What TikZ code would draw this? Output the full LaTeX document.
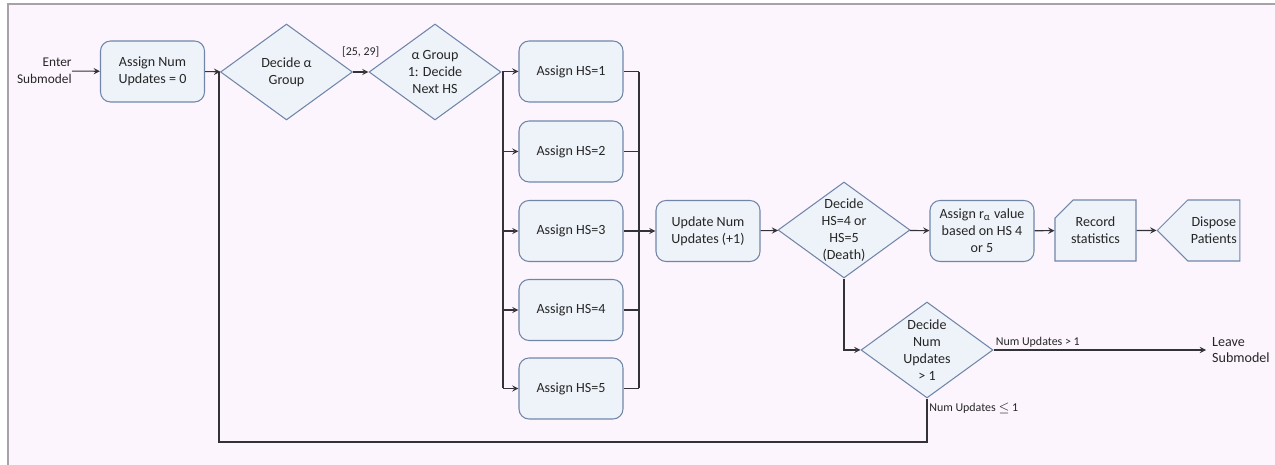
\documentclass[tikz,border=0pt]{standalone}
\usepackage{fontspec}
\setmainfont{Carlito}
\usetikzlibrary{shapes.geometric,shapes.misc,shapes.symbols}

\definecolor{pagebg}{RGB}{253,245,253}
\definecolor{framegray}{RGB}{168,162,168}
\definecolor{boxfill}{RGB}{238,243,250}
\definecolor{boxline}{RGB}{112,134,168}
\definecolor{linegray}{RGB}{50,50,55}

\begin{document}
\begin{tikzpicture}[x=0.02cm,y=-0.02cm,> = stealth,
		every node/.style={font=\fontsize{8}{9.6}\selectfont, text=black!85},
		process/.style={draw=boxline, fill=boxfill, line width=0.6pt, rounded corners=0.2cm,
			minimum width=2.08cm, minimum height=1.22cm, align=center},
		decision/.style={diamond, draw=boxline, fill=boxfill, line width=0.6pt,
			minimum width=2.64cm, minimum height=1.92cm, inner sep=-0.3cm, align=center},
		record/.style={chamfered rectangle, chamfered rectangle corners=north west,
			chamfered rectangle xsep=0.18cm, chamfered rectangle ysep=0.18cm,
			draw=boxline, fill=boxfill, line width=0.6pt,
			minimum width=1.62cm, minimum height=1.22cm, align=center},
		dispose/.style={signal, signal to=west, signal from=nowhere, signal pointer angle=90,
			draw=boxline, fill=boxfill, line width=0.6pt, inner xsep=1.8pt,
			minimum height=1.22cm, align=center},
		note/.style={font=\fontsize{6.8}{8}\selectfont, inner sep=1pt},
		flow/.style={draw=linegray, line width=0.6pt}]

			% Page
			\useasboundingbox (0,0) rectangle (1275,465);
			\fill[pagebg] (8,4) rectangle (1275,465);
			\draw[framegray, line width=0.6pt] (8,465) -- (8,4) -- (1275,4);

			% Top row
			\node[align=right, anchor=east, inner sep=0pt, font=\fontsize{7.6}{9.6}\selectfont] (enter) at (72,71) {Enter\\Submodel};
			\node[process] (init) at (152.5,71.5) {Assign Num\\Updates = 0};
			\node[decision] (dag) at (286.5,72) {Decide α\\Group};
			\node[decision] (dg1) at (435,72) {α Group\\1: Decide\\Next HS};

			% Health state boxes
			\node[process] (hs1) at (571,71.5) {Assign HS=1};
			\node[process] (hs2) at (571,151.5) {Assign HS=2};
			\node[process] (hs3) at (571,231) {Assign HS=3};
			\node[process] (hs4) at (571,310) {Assign HS=4};
			\node[process] (hs5) at (571,388.5) {Assign HS=5};

			% Middle row
			\node[process] (upd) at (708,231) {Update Num\\Updates (+1)};
			\node[decision] (dhs) at (844,230) {Decide\\HS=4 or\\HS=5\\(Death)};
			\node[process] (ra) at (982,231) {Assign r\textsubscript{α} value\\based on HS 4\\or 5};
			\node[record] (rec) at (1095.5,230.5) {Record\\statistics};
			\node[dispose, anchor=west] (disp) at (1156.5,230.5) {Dispose\\Patients};

			% Bottom decision
			\node[decision] (dnu) at (927,350) {Decide\\Num\\Updates\\> 1};
			\node[align=left, anchor=west] (leave) at (1206,350) {Leave\\Submodel};

			% Bus lines
			\coordinate (busL) at (503,72);
			\coordinate (busR) at (639,72);
			\coordinate (loopbot) at (219,442);

			% Connectors
			\draw[flow,->] (enter) -- (init);
			\draw[flow,->] (init) -- (dag);
			\draw[flow,->] (dag) -- node[note, midway, above=7pt] {[25, 29]} (dg1);
			\draw[flow] (dg1) -- (busL) -- (busL |- hs5);
			\draw[flow] (busR) -- (busR |- hs5);
			\foreach \n in {hs1,hs2,hs3,hs4,hs5} {
				\draw[flow,->] (busL |- \n) -- (\n);
				\draw[flow] (\n) -- (busR |- \n);
			}
			\draw[flow,->] (busR |- upd) -- (upd);
			\draw[flow,->] (upd) -- (dhs);
			\draw[flow,->] (dhs) -- (ra);
			\draw[flow,->] (ra) -- (rec);
			\draw[flow,->] (rec) -- (disp);
			\draw[flow,->] (dhs.south) |- (dnu.west);
			\draw[flow,->] (dnu.east) -- node[note, pos=0, above right] {Num Updates > 1} (leave);
			\draw[flow] (dnu.south) -- node[note, pos=0.05, anchor=north west] {Num Updates $\leq$ 1} (dnu.south |- loopbot)
				-- (loopbot) -- (loopbot |- dag.west);
		\end{tikzpicture}
\end{document}
